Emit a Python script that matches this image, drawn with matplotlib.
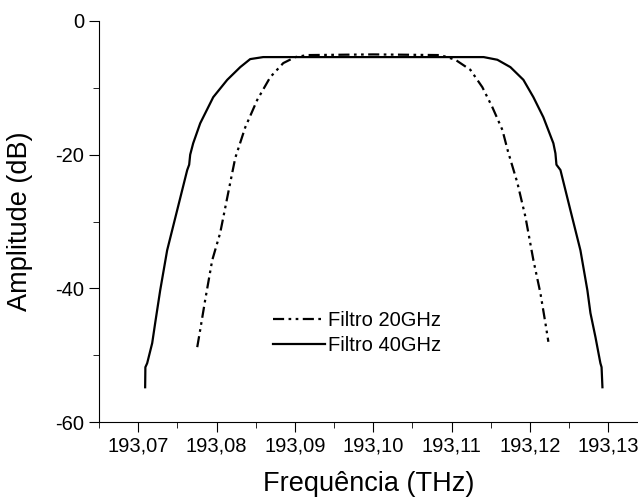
import matplotlib
matplotlib.use("Agg")
import matplotlib.pyplot as plt
from matplotlib.ticker import MultipleLocator, FuncFormatter

plt.rcParams['font.family'] = ['Liberation Sans', 'DejaVu Sans']

# Filtro 40GHz (solid)
freq_40 = [193.07089, 193.07092, 193.07115, 193.07179, 193.07217, 193.07281,
           193.07370, 193.07498, 193.07626, 193.07651, 193.07664, 193.07702,
           193.07792, 193.07958, 193.08137, 193.08303, 193.08430, 193.08596,
           193.10000, 193.11410, 193.11585, 193.11751, 193.11917, 193.12045,
           193.12172, 193.12300, 193.12326, 193.12339, 193.12390, 193.12517,
           193.12645, 193.12734, 193.12773, 193.12837, 193.12900, 193.12915,
           193.12926]
amp_40 = [-54.8, -51.8, -51.2, -48.2, -45.2, -40.3,
          -34.3, -28.3, -22.3, -21.5, -20.0, -18.3,
          -15.3, -11.4, -8.8, -6.9, -5.7, -5.4,
          -5.4, -5.4, -5.8, -6.9, -8.8, -11.4,
          -14.4, -18.3, -19.8, -21.5, -22.3, -28.3,
          -34.3, -40.3, -43.7, -47.3, -51.2, -51.8,
          -54.8]

# Filtro 20GHz (dash-dot-dot)
freq_20 = [193.07754, 193.07792, 193.07856, 193.07945, 193.08047, 193.08175,
           193.08239, 193.08367, 193.08520, 193.08686, 193.08852, 193.09005,
           193.09158, 193.10000, 193.10857, 193.11049, 193.11240, 193.11393,
           193.11521, 193.11649, 193.11720, 193.11840, 193.11943, 193.12045,
           193.12134, 193.12198, 193.12236]
amp_20 = [-48.8, -46.2, -41.7, -35.8, -31.7, -24.2,
          -20.5, -15.9, -11.8, -8.4, -6.3, -5.4,
          -5.1, -5.0, -5.1, -5.8, -7.3, -9.9,
          -12.9, -16.3, -19.5, -24.2, -29.3, -35.8,
          -40.7, -45.2, -48.0]

fig = plt.figure(figsize=(6.38, 4.97), dpi=100)
ax = fig.add_axes([99 / 638, 1 - 422 / 497, 1 - 99 / 638, 401 / 497])

ax.plot(freq_20, amp_20, color='black', lw=1.6,
        linestyle=(0, (5, 2, 1.2, 2, 1.2, 2)), label='Filtro 20GHz')
ax.plot(freq_40, amp_40, color='black', lw=1.6, label='Filtro 40GHz')

ax.set_xlim(193.065, 193.1338)
ax.set_ylim(-60, 0)
ax.spines['top'].set_visible(False)
ax.spines['right'].set_visible(False)

ax.xaxis.set_major_locator(MultipleLocator(0.01))
ax.xaxis.set_minor_locator(MultipleLocator(0.005))
ax.yaxis.set_major_locator(MultipleLocator(20))
ax.yaxis.set_minor_locator(MultipleLocator(10))
ax.xaxis.set_major_formatter(FuncFormatter(lambda v, p: f"{v:.2f}".replace('.', ',')))
ax.yaxis.set_major_formatter(FuncFormatter(lambda v, p: f"{v:.0f}"))
ax.tick_params(which='major', direction='out', length=7, labelsize=14.5)
ax.tick_params(which='minor', direction='out', length=4)

ax.set_xlabel('Frequência (THz)', fontsize=19.5)
ax.set_ylabel('Amplitude (dB)', fontsize=19.5)
ax.xaxis.set_label_coords(0.5, -0.122)
ax.yaxis.set_label_coords(-0.122, 0.5)

ax.legend(loc='upper left', bbox_to_anchor=(0.323, 0.277), frameon=False,
          fontsize=14.5, handlelength=2.6, handletextpad=0.15,
          labelspacing=0.3, borderpad=0, borderaxespad=0)

fig.savefig('out.png', dpi=100)
